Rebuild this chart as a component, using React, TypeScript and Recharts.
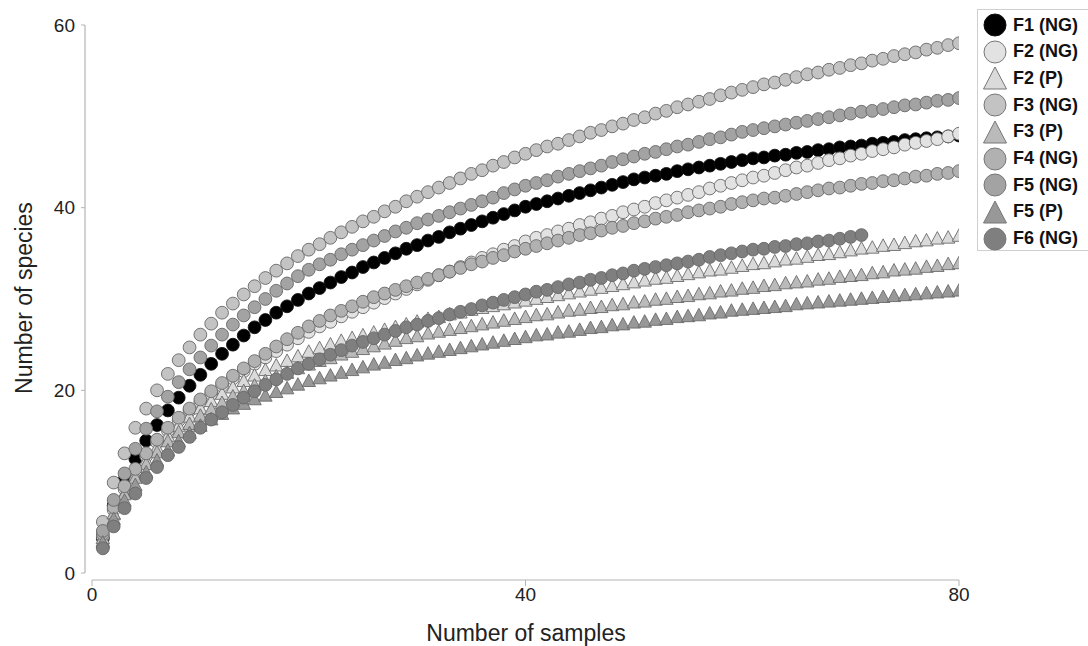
import { ScatterChart, Scatter, XAxis, YAxis, ReferenceLine, Label } from "recharts";

// rarefaction curves, one value per sample count (1..n)
const f1NG = [3.8, 7.4, 10.2, 12.5, 14.5, 16.2, 17.8, 19.2, 20.5, 21.7, 22.9, 24.0, 25.0, 26.0, 26.9, 27.7, 28.5, 29.2, 29.9, 30.6, 31.2, 31.8, 32.4, 32.9, 33.5, 34.0, 34.5, 35.0, 35.5, 35.9, 36.4, 36.8, 37.3, 37.7, 38.1, 38.5, 38.9, 39.3, 39.7, 40.1, 40.4, 40.7, 41.0, 41.3, 41.6, 41.9, 42.2, 42.5, 42.8, 43.1, 43.3, 43.5, 43.7, 44.0, 44.2, 44.4, 44.6, 44.8, 45.0, 45.2, 45.4, 45.5, 45.7, 45.8, 46.0, 46.1, 46.3, 46.4, 46.6, 46.7, 46.8, 47.0, 47.1, 47.2, 47.4, 47.5, 47.6, 47.7, 47.8, 47.9];
const f2NG = [4.0, 6.9, 9.2, 11.1, 12.8, 14.3, 15.6, 16.7, 17.8, 18.7, 19.6, 20.5, 21.3, 22.1, 22.9, 23.6, 24.3, 25.0, 25.7, 26.4, 27.0, 27.5, 28.1, 28.6, 29.1, 29.6, 30.1, 30.6, 31.1, 31.6, 32.1, 32.6, 33.0, 33.5, 34.0, 34.5, 34.9, 35.4, 35.8, 36.3, 36.7, 37.0, 37.4, 37.7, 38.1, 38.4, 38.8, 39.1, 39.5, 39.8, 40.1, 40.5, 40.8, 41.1, 41.4, 41.7, 42.1, 42.4, 42.7, 43.0, 43.3, 43.5, 43.8, 44.1, 44.4, 44.6, 44.9, 45.2, 45.4, 45.7, 45.9, 46.2, 46.4, 46.6, 46.9, 47.1, 47.3, 47.5, 47.8, 48.1];
const f2P = [3.6, 6.5, 8.8, 10.8, 12.4, 13.8, 15.1, 16.2, 17.2, 18.1, 18.9, 19.7, 20.4, 21.1, 21.7, 22.3, 22.8, 23.3, 23.8, 24.3, 24.7, 25.1, 25.5, 25.8, 26.1, 26.4, 26.7, 27.0, 27.3, 27.6, 27.9, 28.1, 28.4, 28.6, 28.9, 29.1, 29.3, 29.5, 29.7, 29.9, 30.1, 30.3, 30.5, 30.7, 30.9, 31.1, 31.3, 31.5, 31.7, 31.9, 32.1, 32.3, 32.4, 32.6, 32.8, 33.0, 33.2, 33.3, 33.5, 33.7, 33.9, 34.0, 34.2, 34.4, 34.5, 34.7, 34.9, 35.0, 35.2, 35.4, 35.6, 35.7, 35.9, 36.0, 36.2, 36.4, 36.5, 36.7, 36.8, 37.0];
const f3NG = [5.6, 9.9, 13.1, 15.9, 18.0, 20.0, 21.8, 23.3, 24.7, 26.1, 27.3, 28.5, 29.5, 30.5, 31.4, 32.3, 33.1, 33.9, 34.7, 35.4, 36.0, 36.7, 37.3, 37.9, 38.5, 39.0, 39.6, 40.1, 40.7, 41.2, 41.7, 42.2, 42.7, 43.2, 43.7, 44.1, 44.6, 45.0, 45.5, 45.9, 46.3, 46.7, 47.0, 47.4, 47.8, 48.2, 48.5, 48.9, 49.2, 49.6, 49.9, 50.3, 50.6, 51.0, 51.3, 51.6, 51.9, 52.3, 52.6, 52.9, 53.2, 53.5, 53.7, 54.0, 54.3, 54.6, 54.8, 55.1, 55.3, 55.6, 55.8, 56.1, 56.3, 56.6, 56.8, 57.0, 57.3, 57.5, 57.8, 58.0];
const f3P = [3.9, 6.6, 8.7, 10.5, 12.0, 13.3, 14.5, 15.5, 16.4, 17.3, 18.0, 18.7, 19.4, 20.0, 20.6, 21.1, 21.6, 22.0, 22.5, 22.9, 23.3, 23.6, 24.0, 24.3, 24.6, 24.9, 25.2, 25.5, 25.8, 26.0, 26.3, 26.5, 26.7, 26.9, 27.1, 27.3, 27.5, 27.7, 27.9, 28.1, 28.3, 28.4, 28.6, 28.8, 28.9, 29.1, 29.2, 29.4, 29.5, 29.7, 29.8, 30.0, 30.1, 30.3, 30.4, 30.6, 30.7, 30.9, 31.0, 31.2, 31.3, 31.5, 31.6, 31.8, 31.9, 32.0, 32.2, 32.3, 32.5, 32.6, 32.7, 32.9, 33.0, 33.2, 33.3, 33.4, 33.6, 33.7, 33.9, 34.0];
const f4NG = [4.3, 7.2, 9.5, 11.4, 13.1, 14.6, 15.9, 17.0, 18.0, 19.0, 19.9, 20.8, 21.6, 22.4, 23.2, 24.0, 24.8, 25.6, 26.3, 27.0, 27.6, 28.2, 28.7, 29.2, 29.7, 30.2, 30.6, 31.0, 31.4, 31.8, 32.2, 32.6, 33.0, 33.4, 33.8, 34.1, 34.5, 34.8, 35.2, 35.5, 35.8, 36.1, 36.4, 36.7, 37.0, 37.2, 37.5, 37.8, 38.0, 38.3, 38.5, 38.8, 39.0, 39.2, 39.5, 39.7, 39.9, 40.1, 40.4, 40.6, 40.8, 41.0, 41.1, 41.3, 41.5, 41.7, 41.9, 42.1, 42.2, 42.4, 42.6, 42.7, 42.9, 43.0, 43.2, 43.4, 43.5, 43.7, 43.8, 44.0];
const f5NG = [4.6, 8.0, 10.9, 13.6, 15.8, 17.7, 19.3, 20.9, 22.3, 23.6, 24.9, 26.1, 27.2, 28.2, 29.1, 30.0, 30.9, 31.7, 32.5, 33.2, 33.8, 34.3, 34.9, 35.4, 35.9, 36.4, 36.9, 37.4, 37.8, 38.3, 38.7, 39.1, 39.5, 39.9, 40.3, 40.7, 41.1, 41.6, 42.0, 42.4, 42.7, 43.0, 43.4, 43.7, 44.0, 44.3, 44.6, 45.0, 45.3, 45.6, 45.9, 46.1, 46.4, 46.7, 46.9, 47.2, 47.5, 47.7, 48.0, 48.3, 48.5, 48.7, 48.9, 49.1, 49.3, 49.5, 49.7, 49.9, 50.1, 50.3, 50.5, 50.6, 50.8, 51.0, 51.2, 51.3, 51.5, 51.7, 51.8, 52.0];
const f5P = [3.4, 6.0, 8.0, 9.7, 11.1, 12.4, 13.5, 14.5, 15.4, 16.2, 16.9, 17.5, 18.1, 18.6, 19.1, 19.5, 19.9, 20.3, 20.7, 21.1, 21.4, 21.7, 22.0, 22.3, 22.6, 22.9, 23.1, 23.4, 23.6, 23.9, 24.1, 24.3, 24.5, 24.7, 24.9, 25.1, 25.3, 25.5, 25.7, 25.9, 26.1, 26.2, 26.4, 26.5, 26.7, 26.9, 27.0, 27.2, 27.3, 27.5, 27.6, 27.8, 27.9, 28.1, 28.2, 28.3, 28.5, 28.6, 28.8, 28.9, 29.0, 29.1, 29.2, 29.3, 29.5, 29.6, 29.7, 29.8, 29.9, 30.0, 30.1, 30.2, 30.3, 30.4, 30.5, 30.6, 30.7, 30.8, 30.9, 31.0];
const f6NG = [2.7, 5.1, 7.1, 8.7, 10.4, 11.6, 12.9, 13.8, 14.9, 15.9, 16.8, 17.6, 18.4, 19.2, 19.9, 20.6, 21.2, 21.8, 22.4, 22.9, 23.4, 23.9, 24.4, 24.9, 25.3, 25.7, 26.1, 26.5, 26.9, 27.2, 27.6, 27.9, 28.3, 28.6, 28.9, 29.3, 29.6, 29.9, 30.2, 30.5, 30.8, 31.0, 31.3, 31.6, 31.8, 32.1, 32.3, 32.6, 32.8, 33.1, 33.3, 33.5, 33.7, 33.9, 34.1, 34.3, 34.6, 34.8, 35.0, 35.2, 35.4, 35.5, 35.7, 35.8, 36.0, 36.1, 36.3, 36.4, 36.6, 36.8, 37.0];

const xTicks = [0, 40, 80];
const yTicks = [0, 20, 40, 60];

const series = [
  { name: "F1 (NG)", values: f1NG, fill: "#000000", shape: "circle" },
  { name: "F2 (NG)", values: f2NG, fill: "#e2e2e2", shape: "circle" },
  { name: "F2 (P)", values: f2P, fill: "#dadada", shape: "triangle" },
  { name: "F3 (NG)", values: f3NG, fill: "#c3c3c3", shape: "circle" },
  { name: "F3 (P)", values: f3P, fill: "#bababa", shape: "triangle" },
  { name: "F4 (NG)", values: f4NG, fill: "#b1b1b1", shape: "circle" },
  { name: "F5 (NG)", values: f5NG, fill: "#a3a3a3", shape: "circle" },
  { name: "F5 (P)", values: f5P, fill: "#989898", shape: "triangle" },
  { name: "F6 (NG)", values: f6NG, fill: "#7f7f7f", shape: "circle" },
];

// domains stretched a little so the axes sit offset from the origin
const X_MIN = -0.646;
const Y_MIN = -0.766;
const AXIS = "#b4b4b4";
const FONT = "'Liberation Sans', Arial, sans-serif";

function marker(kind: string, fill: string, r: number) {
  return (props: any) => {
    const { cx, cy } = props;
    if (cx == null || cy == null) return <g />;
    if (kind === "triangle") {
      const w = r * 2.1;
      const h = r * 1.95;
      const pts = `${cx},${cy - h / 2} ${cx - w / 2},${cy + h / 2} ${cx + w / 2},${cy + h / 2}`;
      return <polygon points={pts} fill={fill} stroke="#6a6a6a" strokeWidth={0.9} />;
    }
    return <circle cx={cx} cy={cy} r={r} fill={fill} stroke={fill === "#000000" ? "#111" : "#666"} strokeWidth={0.9} />;
  };
}

function LegendBox() {
  return (
    <div
      style={{
        position: "absolute",
        left: 977,
        top: 9,
        width: 115,
        height: 240,
        border: "1px solid #cfcfcf",
        background: "#fff",
        fontFamily: FONT,
      }}
    >
      {series.map((s, i) => (
        <div key={s.name} style={{ position: "absolute", left: 0, top: 3 + i * 26.7, height: 24, display: "flex", alignItems: "center" }}>
          <svg width={34} height={24}>
            {s.shape === "triangle" ? (
              <polygon points="17,1 5.5,23 28.5,23" fill={s.fill} stroke="#777" strokeWidth={1} />
            ) : (
              <circle cx={17} cy={12} r={11} fill={s.fill} stroke={s.fill === "#000000" ? "#111" : "#777"} strokeWidth={1} />
            )}
          </svg>
          <span style={{ fontWeight: "bold", fontSize: 18, color: "#111", marginLeft: 1, whiteSpace: "nowrap" }}>{s.name}</span>
        </div>
      ))}
    </div>
  );
}

export default function App() {
  return (
    <div style={{ position: "absolute", left: 0, top: 0, width: 1088, height: 646, background: "#fff" }}>
      <ScatterChart width={1088} height={646} margin={{ top: 25, right: 129, bottom: 0, left: 0 }}>
        <XAxis
          type="number"
          dataKey="x"
          domain={[X_MIN, 80]}
          ticks={xTicks}
          allowDataOverflow
          axisLine={false}
          tickLine={{ stroke: AXIS }}
          tickSize={6}
          tick={{ fill: "#222", fontSize: 19, fontFamily: FONT }}
          height={66}
        >
          <Label
            content={() => (
              <text x={526} y={641} textAnchor="middle" fill="#222" fontSize={23} fontFamily={FONT}>
                Number of samples
              </text>
            )}
          />
        </XAxis>
        <YAxis
          type="number"
          dataKey="y"
          domain={[Y_MIN, 60]}
          ticks={yTicks}
          allowDataOverflow
          axisLine={false}
          tickLine={{ stroke: AXIS }}
          tickSize={4}
          tickMargin={6}
          tick={{ fill: "#222", fontSize: 19, fontFamily: FONT }}
          width={85}
        >
          <Label
            content={() => (
              <text x={24} y={298} transform="rotate(-90 24 298)" textAnchor="middle" dominantBaseline="central" fill="#222" fontSize={23} fontFamily={FONT}>
                Number of species
              </text>
            )}
          />
        </YAxis>
        <ReferenceLine segment={[{ x: 0, y: Y_MIN }, { x: 80, y: Y_MIN }]} stroke={AXIS} strokeWidth={1.2} ifOverflow="visible" />
        <ReferenceLine segment={[{ x: X_MIN, y: 0 }, { x: X_MIN, y: 60 }]} stroke={AXIS} strokeWidth={1.2} ifOverflow="visible" />
        {series.map((s) => (
          <Scatter
            key={s.name}
            name={s.name}
            data={s.values.map((v, i) => ({ x: i + 1, y: v }))}
            fill={s.fill}
            shape={marker(s.shape, s.fill, 6.4)}
            isAnimationActive={false}
          />
        ))}
      </ScatterChart>
      <LegendBox />
    </div>
  );
}
